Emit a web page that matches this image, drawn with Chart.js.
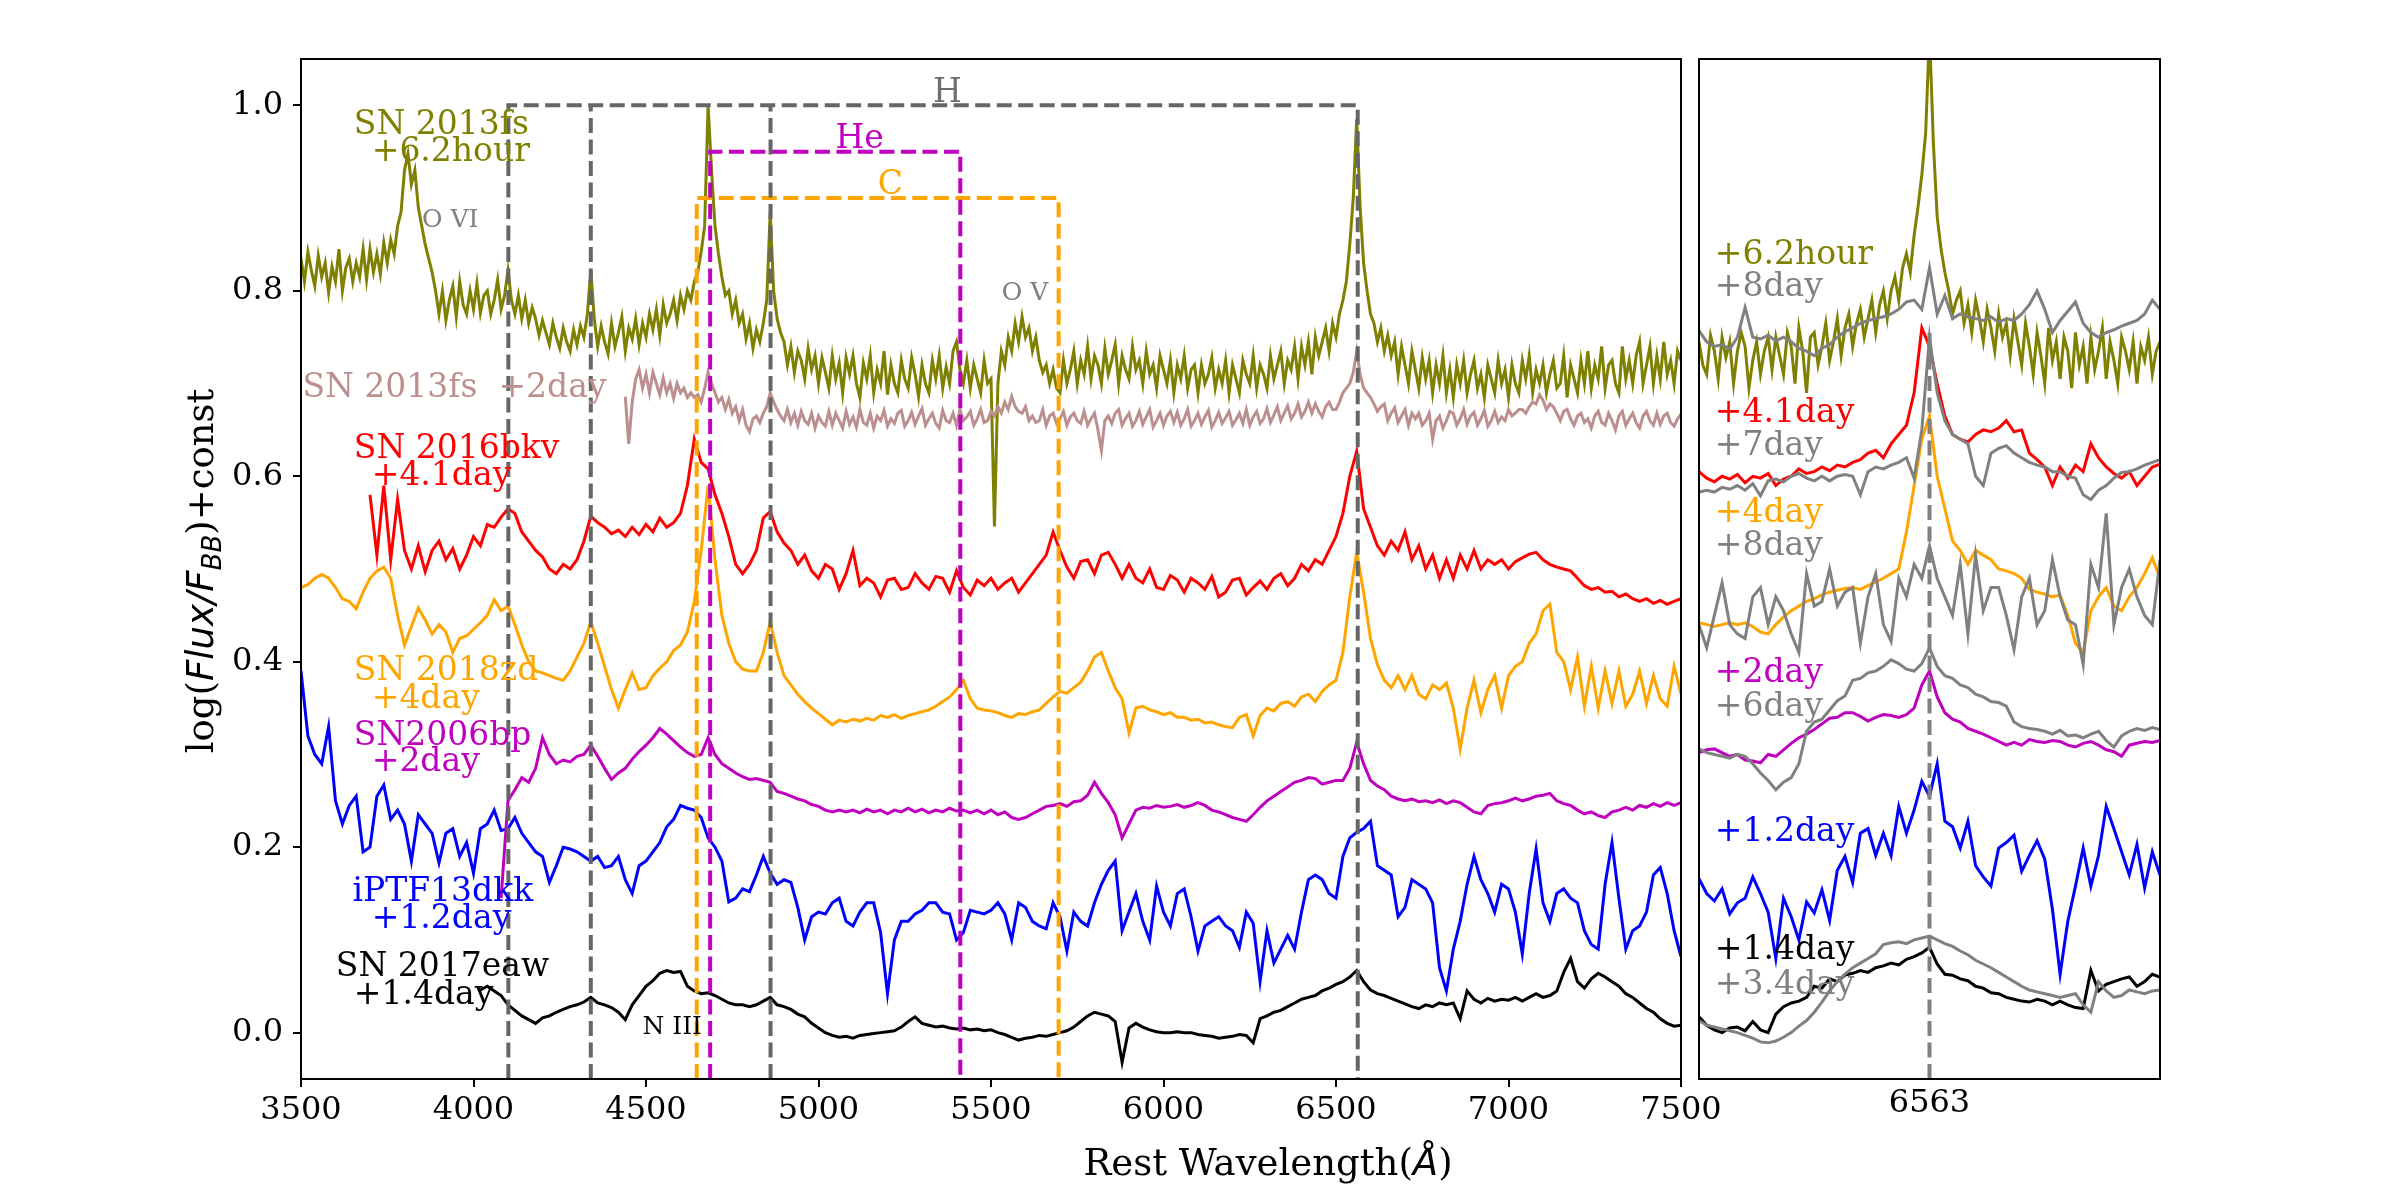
<!DOCTYPE html>
<html>
<head>
<meta charset="utf-8">
<script src="https://cdn.jsdelivr.net/npm/chart.js@4.4.1/dist/chart.umd.min.js"></script>
<style>
  html, body { margin: 0; padding: 0; background: #fff; }
  #wrap { position: relative; width: 2400px; height: 1200px; }
  #mainPanel { position: absolute; left: 0; top: 0; width: 1760px; height: 1200px; }
  #zoomPanel { position: absolute; left: 1690px; top: 0; width: 710px; height: 1200px; }
</style>
</head>
<body>
<div id="wrap">
  <canvas id="mainPanel" width="1760" height="1200"></canvas>
  <canvas id="zoomPanel" width="710" height="1200"></canvas>
</div>
<script>
// ---- main panel: log(Flux/F_BB)+const ----
const STEP = 20;       // smoother spectra, every 20 A
const FINE = 10;       // noisy SN 2013fs spectra, every 10 A

// SN 2013fs +6.2hour, from 3500 A, every 10 A
const fs13EarlyStart = 3500;
const fs13Early = [
  .835,.81,.842,.822,.805,.838,.815,.83,.798,.826,.81,.845,.80,.825,.835,.81,.83,.815,.845,.812,
  .845,.82,.84,.818,.852,.83,.855,.84,.87,.885,.93,.948,.915,.93,.89,.87,.85,.835,.82,.80,
  .775,.80,.768,.79,.805,.772,.81,.785,.775,.80,.78,.808,.776,.795,.80,.775,.79,.812,.78,.795,
  .822,.79,.775,.795,.77,.79,.765,.782,.77,.752,.768,.755,.742,.765,.75,.738,.76,.745,.735,.758,
  .742,.762,.75,.775,.822,.77,.74,.762,.745,.732,.765,.74,.755,.772,.735,.76,.748,.77,.742,.765,
  .75,.775,.758,.78,.752,.785,.765,.775,.79,.768,.795,.78,.80,.79,.81,.82,.842,.87,1.0,.93,
  .87,.84,.815,.795,.80,.775,.79,.765,.775,.748,.765,.738,.758,.745,.765,.79,.885,.80,.77,.755,
  .745,.72,.74,.712,.735,.725,.705,.738,.715,.73,.70,.728,.712,.695,.73,.705,.722,.69,.728,.71,
  .73,.70,.685,.722,.705,.73,.69,.715,.70,.735,.688,.72,.70,.69,.725,.705,.695,.728,.71,.686,
  .72,.70,.69,.725,.705,.73,.695,.718,.70,.735,.745,.715,.70,.725,.695,.72,.705,.69,.725,.70,
  .705,.546,.70,.735,.72,.75,.735,.765,.745,.772,.75,.76,.735,.75,.725,.712,.72,.70,.715,.695,
  .69,.725,.70,.715,.735,.70,.725,.71,.74,.705,.73,.72,.70,.738,.71,.725,.742,.70,.73,.715,
  .705,.74,.715,.725,.70,.735,.71,.72,.695,.73,.715,.70,.725,.69,.72,.705,.73,.695,.715,.72,
  .69,.72,.70,.71,.728,.695,.715,.70,.725,.69,.72,.705,.69,.725,.71,.70,.73,.695,.72,.71,
  .695,.73,.705,.72,.735,.70,.725,.715,.74,.705,.74,.72,.745,.71,.75,.73,.745,.76,.735,.765,
  .75,.775,.79,.81,.85,.90,.985,.89,.83,.80,.775,.765,.745,.76,.735,.752,.73,.745,.71,.74,
  .72,.70,.735,.715,.695,.728,.705,.725,.69,.72,.70,.73,.69,.715,.685,.72,.70,.725,.69,.71,
  .725,.695,.71,.685,.72,.705,.69,.725,.70,.715,.685,.72,.70,.69,.725,.705,.73,.69,.715,.70,
  .72,.69,.71,.725,.695,.70,.73,.685,.72,.705,.69,.725,.70,.735,.695,.72,.705,.74,.695,.72,
  .725,.70,.69,.74,.705,.725,.70,.73,.745,.70,.72,.74,.70,.73,.705,.745,.71,.725,.70,.735,
  .725
];

// SN 2013fs +2day, from 4440 A, every 10 A
const fs13LateStart = 4440;
const fs13Late = [
  .686,.635,.68,.705,.715,.695,.71,.69,.712,.70,.688,.706,.69,.70,.684,.70,.69,.695,.685,.69,
  .685,.688,.68,.695,.712,.70,.69,.68,.685,.672,.683,.668,.675,.66,.672,.655,.648,.662,.665,.658,
  .668,.675,.69,.68,.672,.665,.66,.672,.658,.668,.655,.67,.66,.656,.668,.652,.665,.658,.654,.67,
  .655,.668,.66,.652,.67,.656,.664,.653,.672,.658,.655,.668,.652,.665,.66,.671,.654,.662,.657,.668,
  .671,.654,.66,.669,.656,.665,.673,.655,.662,.668,.657,.652,.671,.66,.658,.668,.655,.672,.66,.664,
  .67,.655,.662,.672,.658,.66,.67,.665,.675,.668,.68,.672,.686,.675,.67,.668,.675,.66,.665,.658,
  .66,.672,.655,.665,.668,.657,.662,.67,.655,.664,.668,.66,.657,.67,.655,.662,.668,.65,.628,.66,
  .665,.657,.668,.672,.655,.662,.668,.654,.66,.67,.656,.664,.672,.653,.66,.668,.655,.665,.67,.658,
  .669,.655,.662,.672,.654,.66,.668,.656,.664,.671,.653,.66,.669,.657,.663,.67,.655,.661,.668,.657,
  .672,.655,.664,.67,.657,.662,.673,.658,.666,.675,.66,.668,.676,.662,.668,.678,.664,.67,.68,.668,
  .678,.67,.664,.675,.68,.672,.672,.68,.69,.695,.70,.712,.735,.71,.695,.69,.685,.678,.67,.675,
  .678,.66,.668,.674,.658,.665,.672,.655,.668,.662,.668,.655,.66,.668,.64,.66,.665,.652,.66,.67,
  .668,.655,.662,.672,.656,.665,.669,.655,.662,.671,.654,.66,.67,.658,.664,.66,.672,.665,.668,.672,
  .672,.668,.675,.68,.678,.688,.682,.672,.678,.675,.668,.66,.67,.672,.662,.655,.665,.668,.658,.662,
  .652,.665,.67,.658,.655,.668,.66,.65,.665,.67,.655,.662,.668,.658,.652,.665,.67,.66,.655,.668,
  .656,.665,.668,.658,.654,.662,.667
];

// SN 2016bkv +4.1day, from 3700 A
const bkv16Start = 3700;
const bkv16 = [
  .58,.515,.59,.51,.575,.52,.50,.525,.497,.52,
  .53,.51,.522,.50,.515,.535,.525,.548,.545,.556,
  .565,.56,.54,.53,.52,.513,.50,.495,.505,.50,
  .51,.53,.557,.55,.545,.538,.542,.535,.545,.537,
  .548,.54,.555,.545,.55,.56,.59,.64,.615,.608,
  .58,.56,.535,.505,.495,.505,.52,.555,.562,.54,
  .528,.52,.505,.515,.498,.49,.505,.50,.478,.495,
  .52,.482,.49,.485,.47,.488,.49,.478,.48,.495,
  .485,.478,.492,.49,.475,.498,.48,.472,.488,.482,
  .49,.478,.485,.49,.475,.485,.495,.505,.515,.54,
  .52,.502,.49,.508,.51,.495,.515,.518,.505,.49,
  .505,.49,.485,.50,.48,.478,.493,.488,.475,.49,
  .485,.478,.492,.47,.475,.488,.49,.472,.48,.487,
  .478,.49,.495,.482,.49,.505,.498,.51,.505,.52,
  .535,.56,.60,.627,.565,.545,.525,.515,.53,.52,
  .54,.51,.525,.50,.515,.49,.51,.49,.515,.50,
  .52,.50,.51,.505,.51,.50,.508,.512,.516,.518,
  .51,.505,.502,.50,.498,.49,.482,.478,.48,.475,
  .476,.47,.473,.468,.465,.468,.463,.466,.462,.465,
  .468
];

// SN 2018zd +4day, from 3500 A
const zd18Start = 3500;
const zd18 = [
  .48,.483,.49,.494,.49,.48,.468,.465,.457,.475,
  .49,.498,.502,.49,.45,.418,.438,.458,.445,.43,
  .44,.432,.41,.425,.428,.435,.442,.45,.467,.455,
  .46,.44,.418,.40,.39,.388,.385,.382,.38,.39,
  .405,.42,.443,.42,.395,.37,.35,.37,.388,.37,
  .372,.385,.393,.40,.412,.418,.432,.465,.52,.59,
  .51,.45,.42,.40,.392,.39,.39,.41,.443,.41,
  .385,.375,.365,.357,.35,.344,.338,.332,.337,.335,
  .338,.336,.339,.337,.342,.34,.343,.339,.342,.344,
  .346,.348,.352,.357,.362,.37,.38,.36,.35,.348,
  .347,.345,.342,.34,.344,.343,.346,.348,.355,.362,
  .368,.366,.372,.378,.39,.405,.41,.39,.372,.36,
  .323,.35,.352,.348,.346,.343,.345,.34,.34,.337,
  .338,.334,.335,.332,.33,.329,.34,.343,.32,.342,
  .35,.347,.355,.357,.352,.362,.365,.357,.368,.375,
  .38,.41,.47,.518,.475,.425,.397,.38,.372,.385,
  .37,.385,.365,.36,.375,.37,.377,.35,.306,.35,
  .38,.345,.37,.385,.35,.385,.395,.40,.42,.43,
  .455,.462,.41,.40,.37,.405,.352,.395,.35,.39,
  .355,.39,.352,.365,.39,.355,.385,.36,.352,.395,
  .365
];

// SN2006bp +2day, from 4080 A
const bp06Start = 4080;
const bp06 = [
  .145,.25,.262,.275,.27,.285,.318,.30,.29,.294,
  .292,.298,.30,.31,.298,.285,.273,.28,.285,.295,
  .303,.31,.318,.328,.322,.315,.308,.302,.298,.30,
  .318,.30,.29,.285,.28,.276,.273,.274,.272,.27,
  .26,.258,.255,.252,.25,.246,.244,.24,.238,.24,
  .238,.24,.237,.241,.238,.24,.236,.24,.238,.242,
  .238,.241,.237,.24,.238,.242,.239,.24,.237,.24,
  .236,.24,.235,.238,.232,.23,.232,.236,.24,.244,
  .245,.247,.244,.249,.25,.256,.27,.258,.248,.235,
  .21,.225,.24,.243,.242,.245,.243,.244,.246,.243,
  .245,.248,.245,.24,.238,.235,.232,.23,.228,.235,
  .243,.25,.255,.26,.265,.27,.272,.275,.274,.268,
  .27,.272,.272,.285,.313,.29,.272,.266,.262,.255,
  .252,.25,.252,.249,.25,.248,.251,.247,.25,.248,
  .243,.238,.236,.245,.247,.248,.25,.253,.25,.252,
  .255,.256,.258,.25,.247,.245,.24,.236,.238,.234,
  .232,.238,.24,.243,.24,.245,.243,.247,.244,.248,
  .245,.248
];

// iPTF13dkk +1.2day, from 3500 A
const dkk13Start = 3500;
const dkk13 = [
  .39,.32,.30,.29,.33,.25,.225,.245,.255,.195,
  .20,.255,.267,.23,.24,.225,.185,.235,.225,.215,
  .183,.215,.22,.19,.205,.172,.22,.225,.24,.218,
  .22,.232,.215,.205,.195,.19,.162,.18,.20,.198,
  .195,.19,.185,.19,.178,.18,.19,.165,.15,.18,
  .185,.195,.205,.222,.23,.245,.242,.24,.232,.21,
  .20,.185,.141,.145,.155,.152,.17,.19,.172,.16,
  .165,.162,.135,.10,.125,.13,.128,.14,.145,.12,
  .115,.13,.14,.14,.108,.042,.10,.12,.12,.128,
  .132,.14,.14,.13,.128,.10,.108,.132,.13,.128,
  .132,.14,.128,.10,.14,.135,.12,.115,.112,.14,
  .125,.088,.13,.12,.115,.14,.16,.175,.185,.11,
  .13,.15,.12,.10,.158,.13,.115,.15,.155,.125,
  .088,.115,.12,.125,.115,.11,.092,.13,.118,.055,
  .11,.075,.09,.105,.09,.13,.165,.17,.165,.15,
  .145,.19,.21,.216,.22,.228,.18,.175,.17,.125,
  .135,.165,.16,.155,.14,.07,.045,.09,.12,.16,
  .19,.165,.15,.13,.16,.155,.13,.085,.15,.198,
  .14,.12,.15,.155,.145,.14,.11,.095,.09,.16,
  .205,.145,.09,.11,.115,.13,.17,.178,.15,.11,
  .082
];

// SN 2017eaw +1.4day, from 4020 A
const eaw17Start = 4020;
const eaw17 = [
  .046,.05,.045,.04,.03,.024,.018,.014,.01,.016,
  .018,.022,.025,.028,.03,.033,.038,.032,.03,.027,
  .022,.014,.03,.04,.05,.056,.064,.067,.065,.066,
  .05,.045,.042,.043,.04,.036,.032,.03,.03,.028,
  .03,.034,.038,.03,.028,.025,.02,.017,.01,.005,
  0,-.003,-.005,-.004,-.006,-.003,-.002,-.001,0,.001,
  .002,.006,.012,.017,.01,.008,.006,.007,.005,.004,
  .005,.003,.004,.002,.003,0,-.002,-.005,-.008,-.006,
  -.005,-.003,-.004,-.002,0,.002,.006,.012,.018,.022,
  .02,.018,.012,-.032,.005,.01,.006,.003,.001,0,
  0,.001,0,0,-.002,-.003,-.004,-.006,-.005,-.004,
  -.002,-.003,-.011,.015,.018,.022,.024,.028,.032,.036,
  .038,.04,.045,.048,.052,.055,.06,.067,.055,.046,
  .042,.04,.037,.034,.031,.028,.026,.03,.028,.032,
  .03,.032,.015,.045,.036,.032,.037,.034,.036,.035,
  .038,.034,.038,.042,.038,.04,.045,.065,.08,.055,
  .048,.058,.064,.06,.055,.05,.042,.038,.032,.026,
  .022,.015,.01,.007,.008
];

// line identifications (rest wavelengths, A) and bracket heights
const hLines = [4101, 4340, 4861, 6563];
const heLines = [4686, 5411];
const cLines = [4647, 5696];
const hTop = 1.0, heTop = 0.95, cTop = 0.90;

const xTicksMain = [3500, 4000, 4500, 5000, 5500, 6000, 6500, 7000, 7500];
const yTicksMain = [0.0, 0.2, 0.4, 0.6, 0.8, 1.0];

// ---- right panel: around H-alpha, 6563 +- 438 A, every 14.6 A ----
const ZSTART = 6125, ZSTEP = 14.6, ZFINE = 7.3;
// SN 2013fs +6.2hour, every 7.3 A
const zFs13Early = [
  .745,.72,.71,.752,.735,.705,.75,.728,.745,.70,.735,.755,.74,.695,.725,.745,.71,.735,.75,.715,
  .75,.73,.71,.755,.74,.70,.76,.735,.69,.75,.755,.72,.74,.765,.725,.745,.77,.73,.76,.775,
  .74,.765,.78,.75,.77,.79,.755,.785,.80,.77,.80,.815,.79,.825,.84,.82,.86,.89,.925,.97,
  1.08,
  .96,.88,.845,.82,.80,.775,.79,.80,.765,.785,.755,.79,.77,.745,.78,.76,.735,.775,.75,.765,
  .73,.77,.745,.72,.765,.74,.71,.755,.73,.70,.76,.725,.745,.705,.75,.735,.695,.755,.72,.74,
  .70,.75,.715,.735,.76,.705,.745,.725,.70,.75,.735,.715,.745,.70,.74,.725,.75,.71,.735,.745,.755
];
const zComp8a = [
  .757,.745,.74,.742,.737,.75,.782,.75,.748,.752,
  .746,.75,.745,.738,.735,.73,.738,.742,.75,.756,
  .76,.765,.768,.77,.772,.775,.78,.788,.79,.78,
  .825,.775,.795,.77,.775,.772,.77,.768,.772,.766,
  .77,.768,.775,.785,.80,.78,.755,.768,.778,.788,
  .765,.755,.75,.755,.758,.762,.765,.768,.775,.79,
  .78
];
const zBkv16 = [
  .605,.598,.594,.60,.597,.602,.593,.60,.598,.603,
  .59,.597,.60,.608,.603,.605,.61,.606,.612,.61,
  .615,.618,.625,.628,.62,.635,.645,.655,.69,.76,
  .74,.70,.665,.645,.64,.637,.645,.65,.648,.652,
  .66,.648,.65,.625,.618,.61,.59,.61,.598,.612,
  .605,.635,.62,.61,.603,.598,.605,.59,.60,.61,
  .613
];
const zComp7 = [
  .583,.585,.583,.588,.586,.59,.585,.592,.579,.595,
  .597,.594,.60,.603,.598,.595,.60,.595,.60,.602,
  .60,.58,.605,.61,.608,.612,.615,.62,.598,.65,
  .75,.69,.66,.645,.64,.635,.60,.59,.625,.63,
  .633,.625,.62,.615,.612,.61,.605,.605,.60,.598,
  .58,.575,.585,.59,.598,.604,.605,.608,.612,.615,
  .618
];
const zZd18 = [
  .442,.44,.438,.44,.442,.44,.442,.438,.432,.43,
  .44,.448,.455,.46,.465,.468,.472,.475,.477,.479,
  .48,.478,.482,.486,.49,.495,.50,.54,.59,.64,
  .665,.60,.565,.53,.52,.505,.52,.515,.51,.50,
  .498,.495,.49,.478,.475,.473,.47,.472,.45,.42,
  .41,.455,.47,.48,.46,.455,.47,.48,.495,.512,
  .49
];
const zComp8b = [
  .44,.415,.45,.485,.44,.43,.425,.47,.48,.44,
  .47,.455,.43,.41,.495,.46,.465,.50,.46,.475,
  .48,.42,.47,.495,.44,.422,.49,.47,.505,.49,
  .525,.49,.47,.45,.505,.43,.515,.455,.48,.48,
  .45,.413,.47,.49,.44,.455,.51,.47,.445,.44,
  .397,.505,.48,.56,.44,.48,.50,.47,.45,.44,
  .51
];
const zBp06 = [
  .302,.305,.306,.302,.298,.30,.294,.293,.291,.30,
  .298,.305,.312,.318,.322,.327,.333,.339,.34,.345,
  .345,.341,.336,.34,.343,.342,.34,.343,.35,.375,
  .39,.362,.345,.338,.335,.328,.325,.322,.318,.314,
  .31,.313,.31,.316,.314,.313,.315,.314,.31,.308,
  .312,.314,.31,.305,.303,.298,.31,.312,.314,.313,
  .315
];
const zComp6 = [
  .306,.302,.30,.298,.296,.30,.298,.29,.28,.272,
  .262,.27,.275,.29,.325,.335,.338,.348,.358,.363,
  .38,.382,.388,.39,.395,.402,.398,.392,.39,.398,
  .415,.395,.385,.382,.375,.372,.365,.362,.357,.356,
  .352,.335,.33,.328,.327,.325,.322,.326,.32,.321,
  .318,.322,.325,.315,.308,.32,.325,.328,.326,.329,
  .327
];
const zDkk13 = [
  .166,.15,.142,.155,.128,.14,.145,.168,.15,.13,
  .08,.145,.125,.10,.141,.129,.154,.121,.175,.19,
  .162,.215,.22,.191,.215,.191,.244,.215,.24,.271,
  .255,.29,.228,.222,.199,.228,.18,.168,.158,.199,
  .205,.213,.174,.191,.207,.187,.133,.063,.12,.158,
  .199,.158,.191,.244,.22,.195,.17,.203,.156,.195,
  .17
];
const zEaw17 = [
  .017,.008,.003,0,.005,.006,.002,.012,.003,0,
  .02,.028,.032,.034,.038,.05,.048,.058,.055,.062,
  .064,.067,.065,.07,.072,.075,.073,.079,.082,.086,
  .092,.074,.063,.062,.058,.056,.05,.048,.043,.042,
  .038,.036,.034,.033,.036,.034,.03,.034,.03,.027,
  .026,.067,.045,.052,.055,.058,.06,.05,.055,.063,
  .06
];
const zComp34 = [
  .013,.008,.006,.004,.002,0,-.003,-.006,-.01,-.011,
  -.009,-.005,0,.007,.013,.022,.033,.045,.055,.063,
  .07,.075,.08,.085,.095,.097,.098,.096,.10,.102,
  .104,.10,.096,.093,.088,.084,.078,.074,.07,.065,
  .06,.055,.05,.046,.044,.042,.04,.038,.04,.042,
  .03,.022,.055,.045,.038,.04,.046,.044,.042,.045,
  .046
];
const halpha = 6563;

// ---- helpers ----
const SERIF = "'DejaVu Serif'";
const Y_MIN = -0.05, Y_MAX = 1.05;

function toPoints(flux, start, step) {
  return flux.map((y, i) => ({ x: start + i * step, y: y }));
}

function bracket(lines, top) {
  const first = lines[0], last = lines[lines.length - 1];
  const pts = [{x: first, y: Y_MIN}, {x: first, y: top}, {x: last, y: top}, {x: last, y: Y_MIN}];
  lines.slice(1, -1).forEach(w => {
    pts.push({x: w, y: null}, {x: w, y: Y_MIN}, {x: w, y: top});
  });
  return pts;
}

function spectrum(flux, start, step, color, order) {
  return {
    data: toPoints(flux, start, step),
    borderColor: color, borderWidth: 3, pointRadius: 0,
    fill: false, tension: 0, order: order
  };
}

function dashed(points, color, width) {
  return {
    data: points, borderColor: color, borderWidth: width,
    borderDash: [15, 6.5], pointRadius: 0, fill: false,
    spanGaps: false, tension: 0, order: 0
  };
}

// text labels drawn at data coordinates
const notesPlugin = {
  id: 'notes',
  afterDatasetsDraw(chart, args, opts) {
    const ctx = chart.ctx, xs = chart.scales.x, ys = chart.scales.y;
    ctx.save();
    ctx.textAlign = 'left';
    ctx.textBaseline = 'alphabetic';
    (opts.items || []).forEach(n => {
      ctx.font = (n.size || 33) + 'px ' + SERIF;
      ctx.fillStyle = n.color;
      ctx.fillText(n.text, xs.getPixelForValue(n.x), ys.getPixelForValue(n.y));
    });
    ctx.restore();
  }
};

// full box round the plot area
const framePlugin = {
  id: 'frame',
  afterDraw(chart) {
    const a = chart.chartArea, ctx = chart.ctx;
    ctx.save();
    ctx.strokeStyle = '#000';
    ctx.lineWidth = 2;
    ctx.strokeRect(a.left, a.top, a.right - a.left, a.bottom - a.top);
    ctx.restore();
  }
};

// mixed-font strings: [text, font, baseline shift]
function drawRuns(ctx, runs, cx, baseY) {
  let total = 0;
  runs.forEach(r => { ctx.font = r[1]; total += ctx.measureText(r[0]).width; });
  let x = cx - total / 2;
  runs.forEach(r => {
    ctx.font = r[1];
    ctx.fillText(r[0], x, baseY + (r[2] || 0));
    x += ctx.measureText(r[0]).width;
  });
}

const titlesPlugin = {
  id: 'titles',
  afterDraw(chart) {
    const ctx = chart.ctx;
    ctx.save();
    ctx.fillStyle = '#000';
    ctx.textAlign = 'left';
    ctx.textBaseline = 'alphabetic';
    drawRuns(ctx, [
      ['Rest Wavelength(', '37px ' + SERIF],
      ['\u00C5', "italic 37px 'DejaVu Sans'"],
      [')', '37px ' + SERIF]
    ], 1268, 1175);
    ctx.translate(213, 571);
    ctx.rotate(-Math.PI / 2);
    drawRuns(ctx, [
      ['log(', '37px ' + SERIF],
      ['Flux/F', "italic 37px 'DejaVu Sans'"],
      ['BB', "italic 26px 'DejaVu Sans'", 8],
      [')+const', '37px ' + SERIF]
    ], 0, 0);
    ctx.restore();
  }
};

const tickFont = { family: SERIF, size: 32 };

// ---- main panel ----
new Chart(document.getElementById('mainPanel'), {
  type: 'line',
  data: {
    datasets: [
      dashed(bracket(hLines, hTop), '#666666', 4),
      dashed(bracket(heLines, heTop), '#bf00bf', 4),
      dashed(bracket(cLines, cTop), '#ffa500', 4),
      spectrum(fs13Early, fs13EarlyStart, FINE, '#808000', 2),
      spectrum(fs13Late, fs13LateStart, FINE, '#bc8f8f', 1),
      spectrum(bkv16, bkv16Start, STEP, '#ff0000', 1),
      spectrum(zd18, zd18Start, STEP, '#ffa500', 1),
      spectrum(bp06, bp06Start, STEP, '#bf00bf', 1),
      spectrum(dkk13, dkk13Start, STEP, '#0000ff', 1),
      spectrum(eaw17, eaw17Start, STEP, '#000000', 1)
    ]
  },
  options: {
    responsive: false,
    animation: false,
    events: [],
    layout: { padding: { left: 0, right: 79, top: 59, bottom: 0 } },
    plugins: {
      legend: { display: false },
      tooltip: { enabled: false },
      notes: {
        items: [
          { text: 'SN 2013fs', x: 3653, y: 0.969, color: '#808000' },
          { text: '+6.2hour', x: 3705, y: 0.9405, color: '#808000' },
          { text: 'O VI', x: 3851, y: 0.869, color: '#808080', size: 25 },
          { text: 'SN 2013fs  +2day', x: 3504, y: 0.685, color: '#bc8f8f' },
          { text: 'SN 2016bkv', x: 3653, y: 0.6196, color: '#ff0000' },
          { text: '+4.1day', x: 3705, y: 0.591, color: '#ff0000' },
          { text: 'SN 2018zd', x: 3653, y: 0.3807, color: '#ffa500' },
          { text: '+4day', x: 3705, y: 0.3498, color: '#ffa500' },
          { text: 'SN2006bp', x: 3653, y: 0.3106, color: '#bf00bf' },
          { text: '+2day', x: 3705, y: 0.2818, color: '#bf00bf' },
          { text: 'iPTF13dkk', x: 3649, y: 0.1415, color: '#0000ff' },
          { text: '+1.2day', x: 3705, y: 0.1126, color: '#0000ff' },
          { text: 'SN 2017eaw', x: 3601, y: 0.061, color: '#000000' },
          { text: '+1.4day', x: 3653, y: 0.0308, color: '#000000' },
          { text: 'N III', x: 4490, y: -0.001, color: '#000000', size: 25 },
          { text: 'O V', x: 5531, y: 0.790, color: '#808080', size: 25 },
          { text: 'H', x: 5332, y: 1.004, color: '#707070' },
          { text: 'He', x: 5049, y: 0.954, color: '#bf00bf' },
          { text: 'C', x: 5172, y: 0.9046, color: '#ffa500' }
        ]
      }
    },
    scales: {
      x: {
        type: 'linear', min: 3500, max: 7500,
        afterBuildTicks: s => { s.ticks = xTicksMain.map(v => ({ value: v })); },
        afterFit: s => { s.height = 121; s.paddingLeft = 0; s.paddingRight = 0; },
        ticks: { font: tickFont, color: '#000', padding: 4, maxRotation: 0, autoSkip: false,
                 callback: v => String(v) },
        grid: { drawOnChartArea: false, drawTicks: true, tickLength: 8, color: '#000', lineWidth: 2 },
        border: { display: false }
      },
      y: {
        type: 'linear', min: Y_MIN, max: Y_MAX,
        afterBuildTicks: s => { s.ticks = yTicksMain.map(v => ({ value: v })); },
        afterFit: s => { s.width = 301; s.paddingTop = 0; s.paddingBottom = 0; },
        ticks: { font: tickFont, color: '#000', padding: 10, callback: v => v.toFixed(1) },
        grid: { drawOnChartArea: false, drawTicks: true, tickLength: 8, color: '#000', lineWidth: 2 },
        border: { display: false }
      }
    }
  },
  plugins: [notesPlugin, framePlugin, titlesPlugin]
});

// ---- right panel (H-alpha zoom) ----
new Chart(document.getElementById('zoomPanel'), {
  type: 'line',
  data: {
    datasets: [
      dashed([{ x: halpha, y: Y_MIN }, { x: halpha, y: 0.76 }], '#808080', 4),
      spectrum(zComp8a, ZSTART, ZSTEP, '#808080', 1),
      spectrum(zComp7, ZSTART, ZSTEP, '#808080', 1),
      spectrum(zComp8b, ZSTART, ZSTEP, '#808080', 1),
      spectrum(zComp6, ZSTART, ZSTEP, '#808080', 1),
      spectrum(zComp34, ZSTART, ZSTEP, '#808080', 1),
      spectrum(zFs13Early, ZSTART, ZFINE, '#808000', 2),
      spectrum(zBkv16, ZSTART, ZSTEP, '#ff0000', 2),
      spectrum(zZd18, ZSTART, ZSTEP, '#ffa500', 2),
      spectrum(zBp06, ZSTART, ZSTEP, '#bf00bf', 2),
      spectrum(zDkk13, ZSTART, ZSTEP, '#0000ff', 2),
      spectrum(zEaw17, ZSTART, ZSTEP, '#000000', 2)
    ]
  },
  options: {
    responsive: false,
    animation: false,
    events: [],
    layout: { padding: { left: 9, right: 240, top: 59, bottom: 0 } },
    plugins: {
      legend: { display: false },
      tooltip: { enabled: false },
      notes: {
        items: [
          { text: '+6.2hour', x: 6155, y: 0.829, color: '#808000' },
          { text: '+8day', x: 6155, y: 0.7946, color: '#808080' },
          { text: '+4.1day', x: 6155, y: 0.659, color: '#ff0000' },
          { text: '+7day', x: 6155, y: 0.6225, color: '#808080' },
          { text: '+4day', x: 6155, y: 0.5506, color: '#ffa500' },
          { text: '+8day', x: 6155, y: 0.5147, color: '#808080' },
          { text: '+2day', x: 6155, y: 0.3784, color: '#bf00bf' },
          { text: '+6day', x: 6155, y: 0.3412, color: '#808080' },
          { text: '+1.2day', x: 6155, y: 0.2071, color: '#0000ff' },
          { text: '+1.4day', x: 6155, y: 0.0792, color: '#000000' },
          { text: '+3.4day', x: 6155, y: 0.042, color: '#808080' }
        ]
      }
    },
    scales: {
      x: {
        type: 'linear', min: halpha - 438, max: halpha + 438,
        afterBuildTicks: s => { s.ticks = [{ value: halpha }]; },
        afterFit: s => { s.height = 121; s.paddingLeft = 0; s.paddingRight = 0; },
        ticks: { font: tickFont, color: '#000', padding: 5, maxRotation: 0, callback: v => String(v) },
        grid: { drawOnChartArea: false, drawTicks: false },
        border: { display: false }
      },
      y: {
        type: 'linear', min: Y_MIN, max: Y_MAX, display: false
      }
    }
  },
  plugins: [notesPlugin, framePlugin]
});
</script>
</body>
</html>
